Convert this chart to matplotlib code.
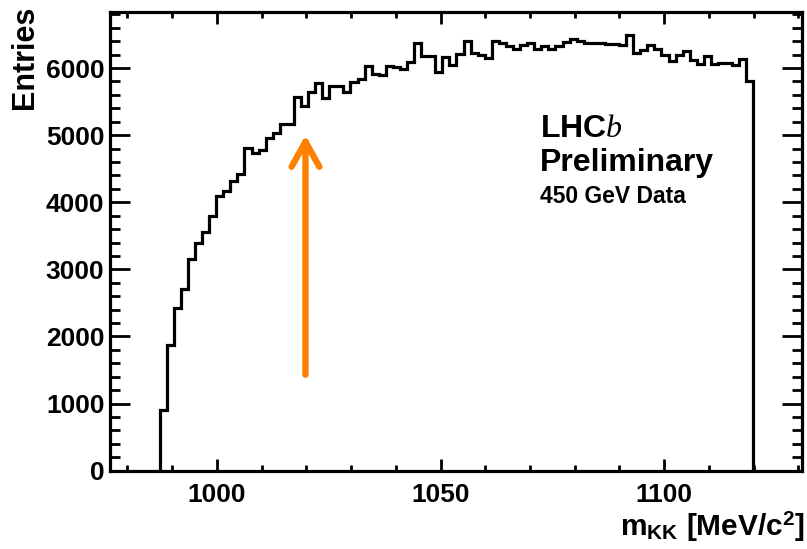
import numpy as np
import matplotlib
matplotlib.use("Agg")
import matplotlib.pyplot as plt
from matplotlib.ticker import MultipleLocator

plt.rcParams['font.family'] = ['Liberation Sans', 'DejaVu Sans']
plt.rcParams['font.weight'] = 'bold'
plt.rcParams['mathtext.fontset'] = 'custom'
plt.rcParams['mathtext.rm'] = 'Liberation Sans:bold'
plt.rcParams['mathtext.bf'] = 'Liberation Sans:bold'
plt.rcParams['mathtext.it'] = 'Liberation Serif:style=italic:weight=normal'

# KK invariant mass, 84 bins of 1.58 MeV starting at threshold
bin_lo = 987.2
bin_w = 1.58
entries = [
    910, 1880, 2420, 2715, 3150, 3390, 3560, 3795, 4090, 4175,
    4310, 4420, 4805, 4735, 4780, 4955, 5030, 5165, 5165, 5575,
    5440, 5640, 5780, 5560, 5740, 5740, 5640, 5790, 5830, 6030,
    5910, 5890, 6030, 6020, 5980, 6090, 6380, 6180, 6180, 5935,
    6170, 6045, 6210, 6400, 6220, 6200, 6150, 6410, 6370, 6330,
    6280, 6340, 6380, 6280, 6330, 6290, 6330, 6390, 6440, 6410,
    6370, 6370, 6370, 6360, 6360, 6340, 6500, 6220, 6265, 6340,
    6290, 6190, 6105, 6190, 6250, 6115, 6055, 6180, 6055, 6070,
    6070, 6045, 6140, 5800,
]
edges = bin_lo + bin_w * np.arange(len(entries) + 1)

# arrow marking the structure near 1020 MeV
arrow_x = 1019.8
arrow_from = 1430
arrow_to = 5000

fig = plt.figure(figsize=(8.07, 5.49), dpi=100)
ax = fig.add_axes([0.1363, 0.1426, 0.8575, 0.8361])

ax.stairs(entries, edges, color='black', lw=2.3, baseline=0)

ax.annotate('', xy=(arrow_x, arrow_to), xytext=(arrow_x, arrow_from),
            arrowprops=dict(arrowstyle='->, head_length=0.9, head_width=0.5',
                            color='#ff8000', lw=4.6, mutation_scale=20,
                            shrinkA=0, shrinkB=0, capstyle='round',
                            joinstyle='round'))

ax.set_xlim(976.1, 1130.8)
ax.set_ylim(0, 6840)

ax.xaxis.set_major_locator(MultipleLocator(50))
ax.xaxis.set_minor_locator(MultipleLocator(10))
ax.yaxis.set_major_locator(MultipleLocator(1000))
ax.yaxis.set_minor_locator(MultipleLocator(200))

ax.tick_params(which='both', direction='in', top=True, right=True, width=2,
               labelsize=19)
ax.tick_params(axis='x', which='major', length=8.6, pad=9)
ax.tick_params(axis='x', which='minor', length=4.3)
ax.tick_params(axis='y', which='major', length=14.4, pad=4)
ax.tick_params(axis='y', which='minor', length=7.2)

for s in ax.spines.values():
    s.set_linewidth(2.3)

fig.text(0.031, 0.99, 'Entries', rotation=90, ha='center', va='top', fontsize=22)
fig.text(0.998, 0.01, r'm$_{\mathrm{KK}}$ [MeV/c$^{\mathrm{2}}$]', ha='right',
         va='bottom', fontsize=21.5)

fig.text(0.669, 1 - 137 / 549, r'LHC$b$', fontsize=23, va='baseline')
fig.text(0.669, 1 - 171 / 549, 'Preliminary', fontsize=23, va='baseline')
fig.text(0.669, 1 - 203 / 549, '450 GeV Data', fontsize=16.5, va='baseline')

fig.savefig('out.png', dpi=100)
